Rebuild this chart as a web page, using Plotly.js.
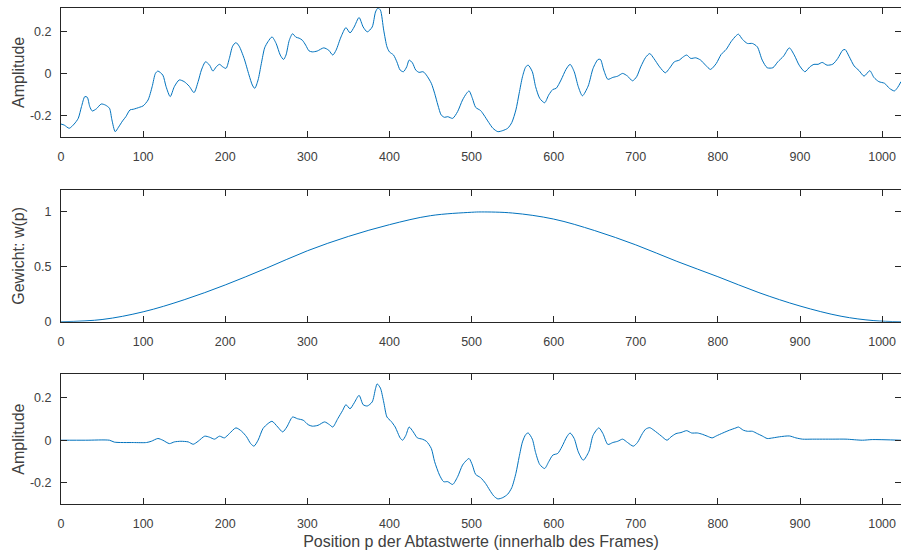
<!DOCTYPE html>
<html>
<head>
<meta charset="utf-8">
<script src="https://cdn.plot.ly/plotly-3.0.1.min.js"></script>
<style>html,body{margin:0;padding:0;background:#fff;}#chart{width:901px;height:554px;}</style>
</head>
<body>
<div id="chart"></div>
<script>
// Top panel: frame signal
const sigP = [0,4,10,16,21,25,29,32,35,38,43,49,54,59,62,66,70,75,79,84,88,96,100,106,111,115,118,124,128,133,138,144,150,156,162,167,171,176,181,185,189,193,197,201,205,209,213,217,223,229,233,236,240,244,248,252,257,262,267,271,274,278,282,286,290,294,298,302,306,312,320,326,331,335,341,347,352,357,363,368,373,379,383,386,389,393,397,400,405,409,413,417,421,424,428,432,436,441,445,451,455,459,463,467,471,477,483,489,494,497,501,505,511,515,521,526,532,538,544,549,554,558,562,566,569,574,578,583,589,594,599,603,609,615,620,625,630,635,642,648,654,657,661,666,672,678,684,690,696,701,706,712,717,722,729,736,741,747,753,757,762,767,773,779,785,791,798,804,810,816,822,825,830,836,842,848,854,860,867,873,880,887,893,899,906,912,917,922,927,933,940,946,952,955,960,966,972,978,985,990,996,1003,1009,1015,1019,1023];
const sigV = [-0.24,-0.245,-0.26,-0.24,-0.213,-0.157,-0.11,-0.113,-0.157,-0.178,-0.168,-0.145,-0.15,-0.165,-0.22,-0.276,-0.255,-0.225,-0.205,-0.173,-0.17,-0.16,-0.154,-0.126,-0.063,0,0.011,-0.008,-0.063,-0.11,-0.063,-0.031,-0.039,-0.06,-0.091,-0.039,0.016,0.055,0.039,0.011,0.031,0.043,0.031,0.024,0.071,0.129,0.146,0.129,0.071,-0.008,-0.055,-0.071,-0.031,0.047,0.121,0.15,0.173,0.142,0.087,0.066,0.087,0.157,0.188,0.172,0.167,0.157,0.134,0.107,0.102,0.106,0.121,0.11,0.087,0.11,0.173,0.217,0.192,0.22,0.265,0.22,0.197,0.22,0.291,0.31,0.3,0.205,0.126,0.102,0.087,0.055,0.016,0.008,0.031,0.063,0.05,0.016,0.005,0.008,-0.008,-0.047,-0.094,-0.15,-0.197,-0.208,-0.205,-0.213,-0.181,-0.126,-0.094,-0.083,-0.118,-0.161,-0.176,-0.197,-0.233,-0.26,-0.276,-0.271,-0.26,-0.233,-0.173,-0.094,-0.016,0.031,0.039,0.008,-0.063,-0.118,-0.139,-0.102,-0.076,-0.071,-0.031,0.019,0.043,0.008,-0.063,-0.106,-0.06,0.024,0.066,0.066,0.016,-0.028,-0.019,-0.013,0,-0.013,-0.035,-0.016,0.031,0.076,0.094,0.071,0.031,0.003,0.024,0.055,0.063,0.076,0.087,0.071,0.074,0.063,0.039,0.019,0.047,0.09,0.113,0.15,0.178,0.186,0.161,0.142,0.142,0.126,0.063,0.027,0.027,0.055,0.082,0.121,0.087,0.039,0.008,0.031,0.043,0.043,0.052,0.039,0.044,0.071,0.11,0.113,0.079,0.035,0.013,-0.013,0.013,-0.019,-0.039,-0.047,-0.071,-0.083,-0.066,-0.039];

// Middle panel: window weights
const winP = [0,50,100,150,200,250,300,350,400,450,500,512,550,600,650,700,750,800,850,900,950,990,1023];
const winW = [0,0.02,0.09,0.2,0.335,0.487,0.646,0.777,0.884,0.966,0.997,1.0,0.99,0.935,0.83,0.7,0.55,0.41,0.265,0.143,0.05,0.01,0];

// Bottom panel: windowed signal
const outP = [0,30,59,65,88,104,110,118,124,132,138,146,155,161,167,175,181,187,193,199,205,213,220,226,231,235,240,246,252,257,264,270,275,282,288,295,301,306,313,321,327,331,337,343,347,352,357,363,368,373,379,383,385,389,393,397,402,407,413,416,420,424,429,434,440,445,451,455,461,466,471,477,483,489,494,497,501,505,511,517,522,527,532,538,544,549,554,558,562,566,569,574,578,583,589,594,599,605,610,616,620,625,630,636,643,648,655,660,666,672,678,684,690,697,702,708,712,717,722,731,738,743,749,755,762,768,775,781,787,793,798,806,814,822,825,831,836,842,848,854,860,867,875,887,895,903,915,940,956,976,988,1023];
const outV = [0,0,0,-0.009,-0.011,-0.011,-0.005,0.008,0,-0.016,-0.008,-0.005,-0.008,-0.019,-0.005,0.019,0.014,0.005,0.019,0.011,0.031,0.058,0.042,0.016,-0.016,-0.028,0,0.055,0.078,0.089,0.062,0.039,0.062,0.109,0.101,0.094,0.073,0.066,0.07,0.086,0.073,0.062,0.101,0.14,0.167,0.148,0.175,0.211,0.167,0.161,0.18,0.242,0.265,0.245,0.18,0.109,0.089,0.062,0.011,0,0.023,0.062,0.039,0.011,0.005,-0.005,-0.039,-0.101,-0.164,-0.195,-0.195,-0.208,-0.172,-0.117,-0.094,-0.086,-0.117,-0.161,-0.176,-0.203,-0.234,-0.262,-0.276,-0.27,-0.254,-0.223,-0.156,-0.078,-0.008,0.027,0.034,0.005,-0.058,-0.114,-0.133,-0.101,-0.07,-0.062,-0.031,0.016,0.034,0.008,-0.055,-0.094,-0.052,0.023,0.058,0.031,-0.02,-0.011,-0.005,0.005,-0.011,-0.028,-0.011,0.031,0.052,0.059,0.047,0.02,0,0.016,0.031,0.036,0.045,0.034,0.034,0.028,0.019,0.011,0.02,0.034,0.047,0.058,0.062,0.047,0.042,0.042,0.031,0.02,0.008,0.011,0.016,0.02,0.011,0.005,0.005,0.005,0.005,0,0.003,0];

const xTicks = [0,100,200,300,400,500,600,700,800,900,1000];
const ampTicks = [-0.2, 0, 0.2];
const ampLabels = ['-0.2', '0', '0.2'];
const winTicks = [0, 0.5, 1];
const winLabels = ['0', '0.5', '1'];
const yTitles = ['Amplitude', 'Gewicht: w(p)', 'Amplitude'];
const xTitle = 'Position p der Abtastwerte (innerhalb des Frames)';

const lineStyle = {color: '#0072BD', width: 1, shape: 'spline', smoothing: 0.7};
const traces = [
  {x: sigP, y: sigV, xaxis: 'x', yaxis: 'y', type: 'scatter', mode: 'lines', line: lineStyle, hoverinfo: 'skip'},
  {x: winP, y: winW, xaxis: 'x2', yaxis: 'y2', type: 'scatter', mode: 'lines', line: {color: '#0072BD', width: 1, shape: 'spline', smoothing: 1}, hoverinfo: 'skip'},
  {x: outP, y: outV, xaxis: 'x3', yaxis: 'y3', type: 'scatter', mode: 'lines', line: lineStyle, hoverinfo: 'skip'}
];

const axCol = '#262626';
const tickFont = {family: '"Liberation Sans", Arial, sans-serif', size: 12.5, color: '#404040'};
const titleFont = {family: '"Liberation Sans", Arial, sans-serif', size: 16, color: '#404040'};

function xAx(anchor, title) {
  return {
    anchor: anchor, range: [0, 1023], tickvals: xTicks, ticktext: xTicks.map(String),
    ticks: 'inside', ticklen: 6, tickcolor: axCol, tickwidth: 1,
    showline: true, linecolor: axCol, linewidth: 1, mirror: 'ticks',
    showgrid: false, zeroline: false, tickfont: tickFont, ticklabelstandoff: 8,
    title: title ? {text: title, font: titleFont, standoff: 5} : {text: ''}
  };
}
function yAx(anchor, domain, range, vals, labels, title, standoff) {
  return {
    anchor: anchor, domain: domain, range: range, tickvals: vals, ticktext: labels,
    ticks: 'inside', ticklen: 6, tickcolor: axCol, tickwidth: 1,
    showline: true, linecolor: axCol, linewidth: 1, mirror: 'ticks',
    showgrid: false, zeroline: false, tickfont: tickFont, ticklabelstandoff: 6,
    title: {text: title, font: titleFont, standoff: standoff}
  };
}

const layout = {
  width: 901, height: 554,
  margin: {l: 61, r: 0, t: 8, b: 50},
  paper_bgcolor: '#ffffff', plot_bgcolor: '#ffffff',
  showlegend: false,
  xaxis: xAx('y', null),
  xaxis2: xAx('y2', null),
  xaxis3: xAx('y3', xTitle),
  yaxis: yAx('x', [0.7405, 1], [-0.3, 0.31], ampTicks, ampLabels, yTitles[0], 1),
  yaxis2: yAx('x2', [0.3675, 0.6331], [0, 1.2], winTicks, winLabels, yTitles[1], 5),
  yaxis3: yAx('x3', [0, 0.2615], [-0.3, 0.31], ampTicks, ampLabels, yTitles[2], 1)
};

Plotly.newPlot('chart', traces, layout, {staticPlot: true, displayModeBar: false});
</script>
</body>
</html>
